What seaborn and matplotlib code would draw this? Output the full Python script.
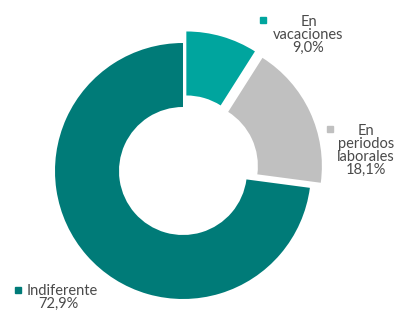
import matplotlib
matplotlib.use("Agg")
import matplotlib.pyplot as plt
import seaborn as sns

categories = ["En\nvacaciones", "En\nperiodos\nlaborales", "Indiferente"]
values = [9.0, 18.1, 72.9]
value_labels = ["9,0%", "18,1%", "72,9%"]
colors = ["#00A59E", "#C0C0C0", "#007B78"]

sns.set_theme(style="white")
plt.rcParams["font.family"] = ["Lato", "DejaVu Sans"]

W, H = 398, 312
fig = plt.figure(figsize=(W / 100, H / 100), dpi=100)
ax = fig.add_axes([0, 0, 1, 1])

R = 128
explode = [12, 12, 0]
ax.pie(values, colors=colors, explode=explode, startangle=90, counterclock=False,
       radius=R, center=(183, H - 171), frame=True,
       wedgeprops=dict(width=64, edgecolor="none"))
ax.set_xlim(0, W)
ax.set_ylim(0, H)
ax.set_aspect("equal")
ax.axis("off")

txt = "#4a4a4a"
fs = 10.5
step = 13


def lines(x, base, text, ha="center"):
    for i, ln in enumerate(text.split("\n")):
        ax.text(x, H - (base + i * step), ln, ha=ha, va="baseline",
                fontsize=fs, color=txt)


# En vacaciones
ax.plot(263, H - 20, marker="s", color=colors[0], markersize=5)
lines(308.5, 26, categories[0] + "\n" + value_labels[0])
# En periodos laborales
ax.plot(330, H - 129, marker="s", color=colors[1], markersize=5)
lines(366, 135, categories[1] + "\n" + value_labels[1])
# Indiferente
ax.plot(18, H - 290, marker="s", color=colors[2], markersize=5)
lines(27, 295, categories[2], ha="left")
lines(58, 308, value_labels[2])

fig.savefig("out.png", dpi=100)
